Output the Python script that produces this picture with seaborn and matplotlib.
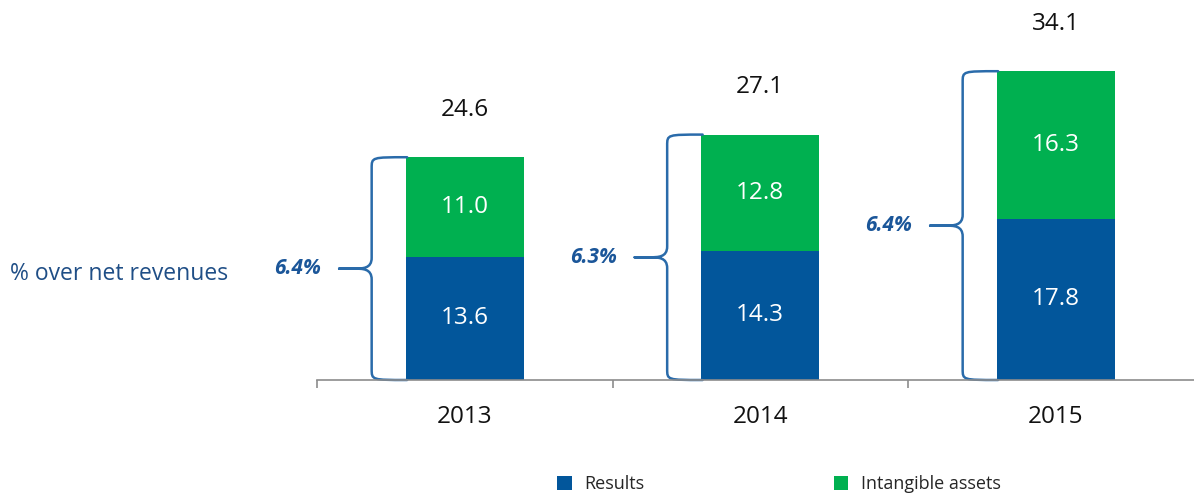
import matplotlib
matplotlib.use("Agg")
import matplotlib.pyplot as plt
import seaborn as sns
import pandas as pd
from matplotlib.path import Path
from matplotlib.patches import PathPatch, Patch

years = ["2013", "2014", "2015"]
results = [13.6, 14.3, 17.8]
intangible = [11.0, 12.8, 16.3]
totals = [24.6, 27.1, 34.1]
pct_labels = ["6.4%", "6.3%", "6.4%"]
side_label = "% over net revenues"
series_names = ["Results", "Intangible assets"]

BLUE = "#02569B"
GREEN = "#00B050"
BRACE = "#2A6BAA"
PCT = "#1B5699"
TXT_BLUE = "#1F4E86"

sns.set_theme(style="white")
plt.rcParams["font.family"] = ["Open Sans", "DejaVu Sans"]

df = pd.DataFrame({"year": years, "results": results, "total": totals})

fig = plt.figure(figsize=(11.94, 4.99), dpi=100)
ax = fig.add_axes([317 / 1194, 119 / 499, 886.5 / 1194, 326 / 499])

sns.barplot(data=df, x="year", y="total", color=GREEN, width=0.4,
            saturation=1, ax=ax, linewidth=0)
sns.barplot(data=df, x="year", y="results", color=BLUE, width=0.4,
            saturation=1, ax=ax, linewidth=0)

ax.set_xlim(-0.5, 2.5)
ax.set_ylim(0, 36)
ax.set_xlabel("")
ax.set_ylabel("")
ax.set_yticks([])
for s in ["left", "right", "top"]:
    ax.spines[s].set_visible(False)
ax.spines["bottom"].set_color("#8C8C8C")
ax.spines["bottom"].set_linewidth(1.2)
ax.set_xticks(range(len(years)))
ax.set_xticklabels(years, fontsize=17.5, color="#111111")
ax.tick_params(axis="x", which="major", length=0, pad=18)
ax.set_xticks([-0.5, 0.5, 1.5, 2.5], minor=True)
ax.tick_params(axis="x", which="minor", length=6, width=1.2,
               color="#8C8C8C", direction="out", bottom=True)

for i in range(len(years)):
    r = results[i]
    g = intangible[i]
    t = totals[i]
    ax.text(i, r / 2, f"{r:.1f}", ha="center", va="center",
            color="white", fontsize=17.5)
    ax.text(i, r + g / 2, f"{g:.1f}", ha="center", va="center",
            color="white", fontsize=17.5)
    ax.annotate(f"{t:.1f}", (i, t), xytext=(0, 34),
                textcoords="offset points", ha="center", va="center",
                fontsize=17.5, color="#111111", annotation_clip=False)

    # curly brace left of the bar
    left = i - 0.2
    x0 = left + 0.005
    xv = left - 0.115
    xm = left - 0.225
    top, bot, mid = t, 0.0, t / 2
    rr = 1.2
    dx = 0.03
    verts = [
        (x0, top), (xv, top), (xv, top), (xv, top - rr),
        (xv, mid + rr),
        (xv, mid), (xv - dx, mid), (xv - 2 * dx, mid),
        (xm, mid),
        (xv - 2 * dx, mid),
        (xv - dx, mid), (xv, mid), (xv, mid - rr),
        (xv, bot + rr),
        (xv, bot), (xv, bot), (x0, bot),
    ]
    codes = [Path.MOVETO, Path.CURVE4, Path.CURVE4, Path.CURVE4,
             Path.LINETO,
             Path.CURVE4, Path.CURVE4, Path.CURVE4,
             Path.LINETO,
             Path.LINETO,
             Path.CURVE4, Path.CURVE4, Path.CURVE4,
             Path.LINETO,
             Path.CURVE4, Path.CURVE4, Path.CURVE4]
    ax.add_patch(PathPatch(Path(verts, codes), fill=False, edgecolor=BRACE,
                           linewidth=1.8, clip_on=False, capstyle="round",
                           joinstyle="round"))
    ax.text(xm - 0.06, mid, pct_labels[i], ha="right", va="center",
            fontsize=15, fontweight="bold", fontstyle="italic", color=PCT,
            clip_on=False)

fig.text(10 / 1194, 1 - 274 / 499, side_label, ha="left", va="center",
         fontsize=16.5, color=TXT_BLUE)

handles = [Patch(facecolor=BLUE, edgecolor="none"),
           Patch(facecolor=GREEN, edgecolor="none")]
fig.legend(handles, series_names, loc="center", ncol=2,
           bbox_to_anchor=(779 / 1194, 1 - 484 / 499), frameon=False,
           fontsize=13, handlelength=0.8, handleheight=0.8,
           handletextpad=0.7, columnspacing=10.5)

fig.savefig("out.png", dpi=100)
